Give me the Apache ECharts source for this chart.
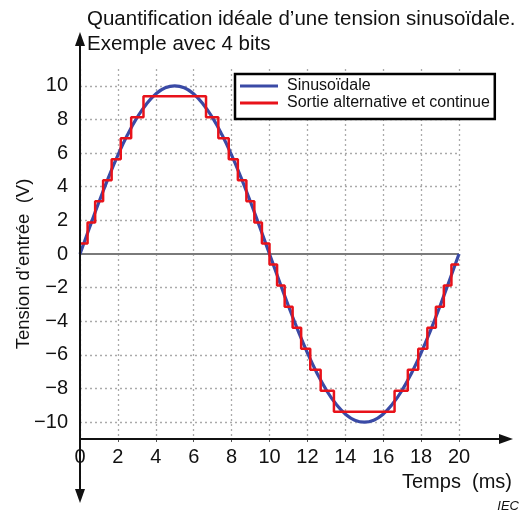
<!DOCTYPE html>
<html>
<head>
<meta charset="utf-8">
<script src="https://cdn.jsdelivr.net/npm/echarts@6/dist/echarts.min.js"></script>
<style>
html,body{margin:0;padding:0;background:#fff;}
#chart{width:522px;height:513px;}
</style>
</head>
<body>
<div id="chart"></div>
<script>
// ---- data ----
var titleLines = ['Quantification idéale d\u2019une tension sinusoïdale.', 'Exemple avec 4 bits'];
var seriesNames = ['Sinusoïdale', 'Sortie alternative et continue'];
var xTicks = [0, 2, 4, 6, 8, 10, 12, 14, 16, 18, 20];
var yTicks = [-10, -8, -6, -4, -2, 0, 2, 4, 6, 8, 10];

// sinusoid, sampled every 0.5 ms (V)
var sineTimes = [0,0.5,1,1.5,2,2.5,3,3.5,4,4.5,5,5.5,6,6.5,7,7.5,8,8.5,9,9.5,10,
                 10.5,11,11.5,12,12.5,13,13.5,14,14.5,15,15.5,16,16.5,17,17.5,18,18.5,19,19.5,20];
var sineValues = [0,1.56,3.09,4.54,5.88,7.07,8.09,8.91,9.51,9.88,10,9.88,9.51,8.91,8.09,7.07,5.88,4.54,3.09,1.56,0,
                  -1.56,-3.09,-4.54,-5.88,-7.07,-8.09,-8.91,-9.51,-9.88,-10,-9.88,-9.51,-8.91,-8.09,-7.07,-5.88,-4.54,-3.09,-1.56,0];

// quantized output: start time of each step (ms) and its level (V)
var stepTimes = [0,0.40,0.80,1.22,1.67,2.15,2.70,3.35,6.65,7.30,7.85,8.33,8.78,9.20,9.60,
                 10.00,10.40,10.80,11.22,11.67,12.15,12.70,13.40,16.60,17.30,17.85,18.33,18.78,19.20,19.60,20.00];
var stepLevels = [0.63,1.88,3.13,4.38,5.63,6.88,8.13,9.38,8.13,6.88,5.63,4.38,3.13,1.88,0.63,
                  -0.63,-1.88,-3.13,-4.38,-5.63,-6.88,-8.13,-9.38,-8.13,-6.88,-5.63,-4.38,-3.13,-1.88,-0.63,-0.63];

var xRange = [0, 20];
var yRange = [-11, 11];

// ---- chart ----
var FONT = '"Liberation Sans", Arial, sans-serif';
var chart = echarts.init(document.getElementById('chart'), null, {renderer: 'canvas'});

function pairs(xs, ys) { return xs.map(function (x, i) { return [x, ys[i]]; }); }
function fmtNum(v) { return v < 0 ? '\u2212' + Math.abs(v) : String(v); }

var gridMarks = yTicks.filter(function (v) { return v !== 0; }).map(function (v) {
  return {yAxis: v, lineStyle: {color: '#aaaaaa', type: [2, 3], width: 1.3}};
});
gridMarks.push({yAxis: 0, lineStyle: {color: '#7a7a7a', type: 'solid', width: 2}});

var option = {
  animation: false,
  backgroundColor: '#ffffff',
  textStyle: {fontFamily: FONT},
  title: {
    text: titleLines.join('\n'),
    left: 87, top: 7, padding: 0,
    textStyle: {fontFamily: FONT, fontSize: 20.5, fontWeight: 'normal', color: '#111', lineHeight: 25}
  },
  legend: {
    orient: 'vertical',
    left: 235, top: 74,
    padding: [4, 5, 8, 5],
    itemGap: 1,
    itemWidth: 38, itemHeight: 3,
    icon: 'rect',
    backgroundColor: '#ffffff',
    borderColor: '#000', borderWidth: 2.5,
    textStyle: {fontFamily: FONT, fontSize: 16, color: '#111', padding: [0, 0, 0, 4], lineHeight: 14},
    data: seriesNames
  },
  grid: {left: 80, right: 63, top: 69, bottom: 74, containLabel: false, outerBoundsMode: 'none'},
  xAxis: {
    type: 'value', min: xRange[0], max: xRange[1], interval: 2,
    axisLine: {show: false, onZero: false},
    axisTick: {show: true, length: 3, lineStyle: {color: '#555'}},
    axisLabel: {fontFamily: FONT, fontSize: 20, color: '#111', margin: 8, formatter: fmtNum},
    splitLine: {show: true, lineStyle: {color: '#aaaaaa', type: [2, 3], width: 1.3}},
    name: 'Temps  (ms)', nameLocation: 'end', nameGap: 53, nameMoveOverlap: false,
    nameTextStyle: {fontFamily: FONT, fontSize: 20, color: '#111', align: 'right', verticalAlign: 'top', padding: [33, 0, 0, 0]}
  },
  yAxis: {
    type: 'value', min: yRange[0], max: yRange[1], interval: 1,
    axisLine: {show: false, onZero: false},
    axisTick: {show: false},
    splitLine: {show: false},
    axisLabel: {
      fontFamily: FONT, fontSize: 20, color: '#111', margin: 12,
      formatter: function (v) { return yTicks.indexOf(v) >= 0 ? fmtNum(v) : ''; }
    },
    name: 'Tension d\u2019entrée  (V)', nameLocation: 'middle', nameRotate: 90, nameGap: 47, nameMoveOverlap: false,
    nameTextStyle: {fontFamily: FONT, fontSize: 18.5, color: '#111', padding: [0, 20, 0, 0]}
  },
  series: [
    {
      name: 'grid', type: 'line', data: [], silent: true, z: 1,
      markLine: {silent: true, symbol: ['none', 'none'], label: {show: false}, z: 1, data: gridMarks}
    },
    {
      name: seriesNames[0], type: 'line', data: pairs(sineTimes, sineValues),
      smooth: true, showSymbol: false, z: 3,
      itemStyle: {color: '#3a4aa6'},
      lineStyle: {color: '#3a4aa6', width: 3.2}
    },
    {
      name: seriesNames[1], type: 'line', data: pairs(stepTimes, stepLevels),
      step: 'end', showSymbol: false, z: 4,
      itemStyle: {color: '#e8121a'},
      lineStyle: {color: '#e8121a', width: 2.5}
    }
  ]
};
chart.setOption(option);

// decorative arrowed axes (positions derived from the axis scales)
var o = chart.convertToPixel({gridIndex: 0}, [xRange[0], yRange[0]]);
var c = chart.convertToPixel({gridIndex: 0}, [xRange[1], yRange[1]]);
var ax = o[0], ay = o[1];
var xTip = c[0] + 54, yTopTip = c[1] - 37, yBotTip = ay + 64;
var AL = 14, AW = 5, black = '#111';
chart.setOption({
  graphic: [
    {type: 'line', z: 10, shape: {x1: ax, y1: ay, x2: xTip - AL + 2, y2: ay}, style: {stroke: black, lineWidth: 2}},
    {type: 'polygon', z: 10, shape: {points: [[xTip, ay], [xTip - AL, ay - AW], [xTip - AL, ay + AW]]}, style: {fill: black}},
    {type: 'line', z: 10, shape: {x1: ax, y1: yTopTip + AL - 2, x2: ax, y2: yBotTip - AL + 2}, style: {stroke: black, lineWidth: 2}},
    {type: 'polygon', z: 10, shape: {points: [[ax, yTopTip], [ax - AW, yTopTip + AL], [ax + AW, yTopTip + AL]]}, style: {fill: black}},
    {type: 'polygon', z: 10, shape: {points: [[ax, yBotTip], [ax - AW, yBotTip - AL], [ax + AW, yBotTip - AL]]}, style: {fill: black}},
    {type: 'text', z: 10, right: 3, bottom: 0,
     style: {text: 'IEC', font: 'italic 13px ' + FONT, fill: '#111'}}
  ]
});
</script>
</body>
</html>
